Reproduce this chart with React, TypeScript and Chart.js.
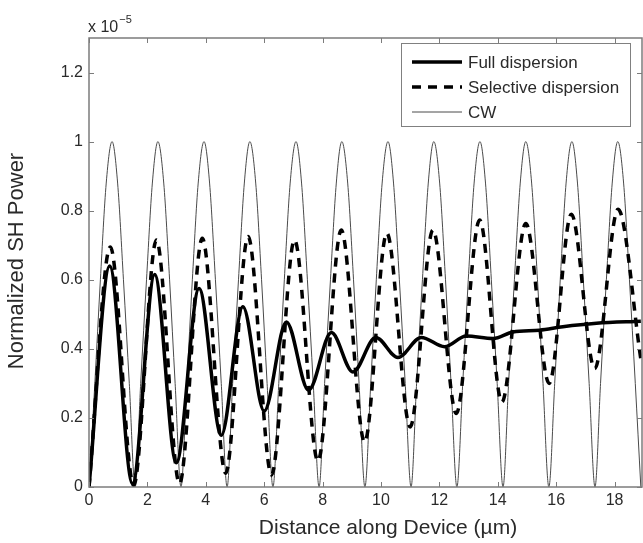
import React, { useEffect, useRef } from "react";
import { Chart, registerables } from "chart.js";
Chart.register(...registerables);

const xTickValues = [0, 2, 4, 6, 8, 10, 12, 14, 16, 18];
const xTickLabels = ["0", "2", "4", "6", "8", "10", "12", "14", "16", "18"];
const yTickValues = [0, 0.2, 0.4, 0.6, 0.8, 1, 1.2];
const yTickLabels = ["0", "0.2", "0.4", "0.6", "0.8", "1", "1.2"];
const seriesNames = ["Full dispersion", "Selective dispersion", "CW"];

// CW: troughs, side points and peaks
const cwX = [
  0, 0.2, 0.39, 0.59, 0.79, 0.98, 1.18, 1.38, 1.58, 1.77, 1.97, 2.17, 2.36,
  2.56, 2.76, 2.95, 3.15, 3.35, 3.54, 3.74, 3.94, 4.13, 4.33, 4.53, 4.73, 4.92,
  5.12, 5.32, 5.51, 5.71, 5.91, 6.1, 6.3, 6.5, 6.69, 6.89, 7.09, 7.28, 7.48,
  7.68, 7.88, 8.07, 8.27, 8.47, 8.66, 8.86, 9.06, 9.25, 9.45, 9.65, 9.84, 10.04,
  10.24, 10.43, 10.63, 10.83, 11.03, 11.22, 11.42, 11.62, 11.81, 12.01, 12.21,
  12.4, 12.6, 12.8, 12.99, 13.19, 13.39, 13.58, 13.78, 13.98, 14.18, 14.37,
  14.57, 14.77, 14.96, 15.16, 15.36, 15.55, 15.75, 15.95, 16.14, 16.34, 16.54,
  16.73, 16.93, 17.13, 17.33, 17.52, 17.72, 17.92, 18.11, 18.31, 18.51, 18.71,
  18.9,
];
const cwY = [
  0, 0.3, 0.6, 0.88, 1, 0.88, 0.6, 0.3,
  0, 0.3, 0.6, 0.88, 1, 0.88, 0.6, 0.3,
  0, 0.3, 0.6, 0.88, 1, 0.88, 0.6, 0.3,
  0, 0.3, 0.6, 0.88, 1, 0.88, 0.6, 0.3,
  0, 0.3, 0.6, 0.88, 1, 0.88, 0.6, 0.3,
  0, 0.3, 0.6, 0.88, 1, 0.88, 0.6, 0.3,
  0, 0.3, 0.6, 0.88, 1, 0.88, 0.6, 0.3,
  0, 0.3, 0.6, 0.88, 1, 0.88, 0.6, 0.3,
  0, 0.3, 0.6, 0.88, 1, 0.88, 0.6, 0.3,
  0, 0.3, 0.6, 0.88, 1, 0.88, 0.6, 0.3,
  0, 0.3, 0.6, 0.88, 1, 0.88, 0.6, 0.3,
  0, 0.3, 0.6, 0.88, 1, 0.88, 0.6, 0.3,
  0,
];

const fullX = [
  0, 0.71, 1.49, 2.25, 2.99, 3.77, 4.53, 5.27, 6.0, 6.76, 7.52, 8.3, 9.04, 9.82,
  10.58, 11.38, 12.18, 12.92, 13.84, 14.52, 15.43, 16.23, 17.38, 18.9,
];
const fullY = [
  0, 0.64, 0.01, 0.615, 0.07, 0.575, 0.15, 0.522, 0.22, 0.478, 0.28, 0.447,
  0.333, 0.433, 0.375, 0.433, 0.406, 0.437, 0.43, 0.449, 0.454, 0.464, 0.474,
  0.48,
];

const selX = [
  0, 0.73, 1.53, 2.31, 3.1, 3.88, 4.68, 5.45, 6.25, 7.04, 7.84, 8.64, 9.44, 10.2,
  11.0, 11.78, 12.58, 13.38, 14.14, 14.96, 15.76, 16.52, 17.32, 18.12, 18.9,
];
const selY = [
  0, 0.695, 0.005, 0.715, 0.01, 0.72, 0.04, 0.725, 0.035, 0.715, 0.075, 0.744,
  0.13, 0.735, 0.174, 0.744, 0.213, 0.773, 0.246, 0.763, 0.3, 0.79, 0.343,
  0.804, 0.37,
];

const FONT = "'Liberation Sans', Arial, Helvetica, sans-serif";
const AXIS_COLOR = "#7c7c7c";
const TEXT_COLOR = "#2a2a2a";

const toPoints = (xs: number[], ys: number[]) => xs.map((x, i) => ({ x, y: ys[i] }));

const framePlugin = {
  id: "matlabFrame",
  afterDraw(chart: any) {
    const { ctx, chartArea } = chart;
    const { left, right, top, bottom } = chartArea;
    const xs = chart.scales.x;
    const ys = chart.scales.y;
    ctx.save();
    // box
    ctx.strokeStyle = AXIS_COLOR;
    ctx.lineWidth = 1.5;
    ctx.strokeRect(left, top, right - left, bottom - top);
    // ticks
    ctx.lineWidth = 1;
    ctx.beginPath();
    xTickValues.forEach((v) => {
      const px = Math.round(xs.getPixelForValue(v)) + 0.5;
      ctx.moveTo(px, bottom);
      ctx.lineTo(px, bottom - 5);
      ctx.moveTo(px, top);
      ctx.lineTo(px, top + 5);
    });
    yTickValues.forEach((v) => {
      const py = Math.round(ys.getPixelForValue(v)) + 0.5;
      ctx.moveTo(left, py);
      ctx.lineTo(left + 5, py);
      ctx.moveTo(right, py);
      ctx.lineTo(right - 5, py);
    });
    ctx.stroke();

    // tick labels
    ctx.fillStyle = TEXT_COLOR;
    ctx.font = `16px ${FONT}`;
    ctx.textAlign = "center";
    ctx.textBaseline = "top";
    xTickValues.forEach((v, i) => {
      ctx.fillText(xTickLabels[i], xs.getPixelForValue(v), bottom + 6);
    });
    ctx.textAlign = "right";
    ctx.textBaseline = "middle";
    yTickValues.forEach((v, i) => {
      ctx.fillText(yTickLabels[i], left - 6, ys.getPixelForValue(v));
    });

    // exponent label
    ctx.textAlign = "left";
    ctx.textBaseline = "alphabetic";
    ctx.font = `16px ${FONT}`;
    ctx.fillText("x 10", left - 1, 32);
    const w = ctx.measureText("x 10").width;
    ctx.font = `11px ${FONT}`;
    ctx.fillText("\u22125", left - 1 + w + 1, 23);

    // axis titles
    ctx.font = `21px ${FONT}`;
    ctx.textAlign = "center";
    ctx.textBaseline = "middle";
    ctx.fillText("Distance along Device (\u00b5m)", 388, 528);
    ctx.save();
    ctx.translate(17, 261);
    ctx.rotate(-Math.PI / 2);
    ctx.font = `22px ${FONT}`;
    ctx.fillText("Normalized SH Power", 0, 0);
    ctx.restore();

    // legend
    const lx = 401, ly = 43, lw = 229, lh = 83;
    ctx.fillStyle = "#ffffff";
    ctx.fillRect(lx, ly, lw, lh);
    ctx.strokeStyle = "#808080";
    ctx.lineWidth = 1;
    ctx.strokeRect(lx + 0.5, ly + 0.5, lw, lh);
    const rows = [62, 87, 112];
    chart.data.datasets.forEach((ds: any, i: number) => {
      const yy = rows[i];
      ctx.save();
      ctx.strokeStyle = ds.borderColor;
      ctx.lineWidth = ds.borderWidth;
      ctx.setLineDash(ds.borderDash || []);
      ctx.beginPath();
      ctx.moveTo(412, yy);
      ctx.lineTo(462, yy);
      ctx.stroke();
      ctx.restore();
      ctx.fillStyle = TEXT_COLOR;
      ctx.font = `17px ${FONT}`;
      ctx.textAlign = "left";
      ctx.textBaseline = "middle";
      ctx.fillText(ds.label, 468, yy + 1);
    });
    ctx.restore();
  },
};

export default function App() {
  const canvasRef = useRef<HTMLCanvasElement | null>(null);

  useEffect(() => {
    const canvas = canvasRef.current;
    if (!canvas) return;
    const chart = new Chart(canvas, {
      type: "line",
      data: {
        datasets: [
          {
            label: seriesNames[0],
            data: toPoints(fullX, fullY),
            borderColor: "#000000",
            borderWidth: 3.5,
            pointRadius: 0,
            cubicInterpolationMode: "monotone",
            fill: false,
          },
          {
            label: seriesNames[1],
            data: toPoints(selX, selY),
            borderColor: "#000000",
            borderWidth: 3.5,
            borderDash: [9, 7],
            pointRadius: 0,
            cubicInterpolationMode: "monotone",
            fill: false,
          },
          {
            label: seriesNames[2],
            data: toPoints(cwX, cwY),
            borderColor: "#4a4a4a",
            borderWidth: 1,
            pointRadius: 0,
            cubicInterpolationMode: "monotone",
            fill: false,
          },
        ],
      },
      options: {
        animation: false,
        responsive: false,
        devicePixelRatio: 1,
        layout: { padding: { left: 89, right: 1, top: 38, bottom: 56 } },
        plugins: {
          legend: { display: false },
          tooltip: { enabled: false },
          title: { display: false },
        },
        scales: {
          x: { type: "linear", min: 0, max: 18.94, display: false },
          y: { type: "linear", min: 0, max: 1.3, display: false },
        },
      },
      plugins: [framePlugin],
    } as any);
    return () => chart.destroy();
  }, []);

  return (
    <div style={{ position: "fixed", left: 0, top: 0, width: 643, height: 543, background: "#fff" }}>
      <canvas ref={canvasRef} width={643} height={543} style={{ display: "block" }} />
    </div>
  );
}
